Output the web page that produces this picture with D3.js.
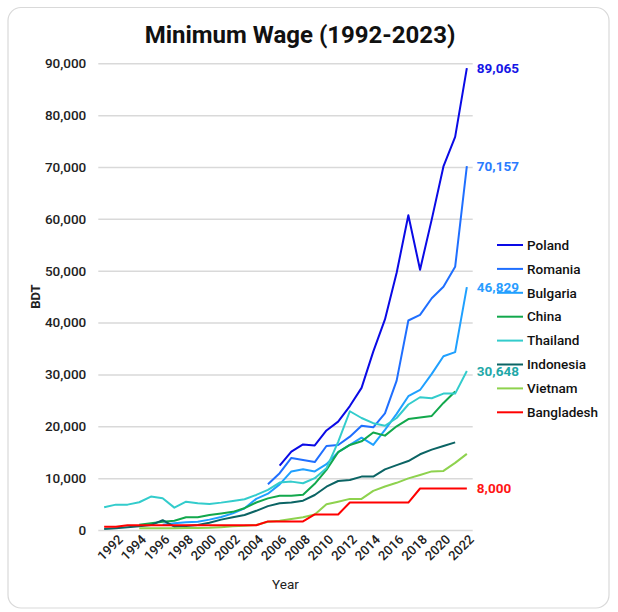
<!DOCTYPE html>
<html>
<head>
<meta charset="utf-8">
<script src="https://cdn.jsdelivr.net/npm/d3@7"></script>
<style>
  body { margin: 0; background: #fff; }
  svg text { font-family: Roboto, "DejaVu Sans", sans-serif; }
</style>
</head>
<body>
<svg id="chart"></svg>
<script>
// years on the x axis
const years = d3.range(1992, 2024);
const tickYears = d3.range(1992, 2023, 2);
const yTicks = [0, 10000, 20000, 30000, 40000, 50000, 60000, 70000, 80000, 90000];

const countries = ["Poland", "Romania", "Bulgaria", "China", "Thailand", "Indonesia", "Vietnam", "Bangladesh"];

// values from 1992 to 2023, null = no data
const poland = [null, null, null, null, null, null, null, null, null, null, null, null, null, null, null,
  12400, 15100, 16500, 16300, 19200, 20900, 23900, 27400, 34400, 40600, 49600, 60700, 50200, 59900, 70100, 75800, 89065];
const romania = [null, null, null, null, null, null, null, null, null, null, null, null, null, null,
  8830, 10950, 13900, 13500, 13100, 16200, 16400, 18000, 20100, 19800, 22500, 28800, 40400, 41500, 44700, 46900, 50750, 70157];
const bulgaria = [null, null, null, null, null, 1000, 1300, 1500, 1600, 2000, 2500, 3200, 4200, 6000,
  7000, 8800, 11300, 11700, 11300, 12700, 15000, 16400, 17800, 16400, 19300, 22400, 25800, 27000, 30100, 33500, 34300, 46829];
const china = [null, null, null, 1000, 1300, 1600, 1800, 2450, 2450, 2900, 3200, 3500, 4200, 5300,
  6100, 6600, 6600, 6800, 8900, 11600, 15000, 16400, 17100, 18800, 18200, 20000, 21400, 21700, 22000, 24500, 26700, null];
const thailand = [4380, 4890, 4890, 5350, 6440, 6120, 4310, 5470, 5150, 5020, 5280, 5600, 5930, 6760,
  7730, 9140, 9330, 9020, 9990, 11900, 17000, 22900, 21600, 20600, 20100, 21600, 24200, 25600, 25400, 26300, 26300, 30648];
const indonesia = [200, 350, 550, 700, 950, 1900, 650, 750, 970, 1400, 2000, 2450, 2900, 3700,
  4600, 5150, 5300, 5650, 6750, 8350, 9450, 9650, 10300, 10300, 11700, 12500, 13300, 14600, 15500, 16200, 16900, null];
const vietnam = [null, null, null, 350, 350, 350, 350, 400, 400, 450, 550, 700, 800, 950,
  1600, 1800, 2100, 2450, 3000, 4950, 5450, 6000, 6000, 7550, 8400, 9100, 9950, 10600, 11300, 11400, 12950, 14680];
const bangladesh = [627, 627, 930, 930, 930, 930, 930, 930, 930, 930, 930, 930, 930, 930,
  1662, 1662, 1662, 1662, 3000, 3000, 3000, 5300, 5300, 5300, 5300, 5300, 5300, 8000, 8000, 8000, 8000, 8000];

const colors = ["#0a0ae6", "#1f6fff", "#1fa0ff", "#12a84c", "#33cccc", "#0b6464", "#8ed24e", "#ff0000"];
const labelColors = {Poland: "#1515e6", Romania: "#2a7bff", Bulgaria: "#2a9dff", Thailand: "#1fa8a8", Bangladesh: "#ff1414"};
const seriesValues = [poland, romania, bulgaria, china, thailand, indonesia, vietnam, bangladesh];

const W = 618, H = 612;
const margin = { top: 63.3, right: 145.3, bottom: 82, left: 98.3 };
const width = W - margin.left - margin.right;
const height = H - margin.top - margin.bottom;

const svg = d3.select("#chart")
  .attr("width", W)
  .attr("height", H);

// card frame
svg.append("rect")
  .attr("x", 8).attr("y", 7.5)
  .attr("width", 601).attr("height", 600.5)
  .attr("rx", 13)
  .attr("fill", "#fff")
  .attr("stroke", "#d9d9d9")
  .attr("stroke-width", 1.2);

svg.append("text")
  .attr("x", 300)
  .attr("y", 43)
  .attr("text-anchor", "middle")
  .style("font-size", "24px")
  .style("font-weight", "700")
  .attr("fill", "#111")
  .text("Minimum Wage (1992-2023)");

const g = svg.append("g")
  .attr("transform", `translate(${margin.left},${margin.top})`);

const x = d3.scaleBand()
  .domain(years)
  .range([0, width]);

const y = d3.scaleLinear()
  .domain([0, 90000])
  .range([height, 0]);

const cx = yr => x(yr) + x.bandwidth() / 2;

// grid + y labels
const yAxis = g.append("g")
  .call(d3.axisLeft(y).tickValues(yTicks).tickSize(-width).tickPadding(12).tickFormat(d3.format(",")));
yAxis.select(".domain").remove();
yAxis.selectAll(".tick line").attr("stroke", "#d9d9d9").attr("stroke-width", 1.5);
yAxis.selectAll(".tick text")
  .attr("fill", "#222")
  .style("font-size", "13.5px")
  .style("font-weight", "500");

// x labels
const xAxis = g.append("g")
  .attr("transform", `translate(0,${height})`)
  .call(d3.axisBottom(x).tickValues(tickYears).tickSize(0).tickPadding(12));
xAxis.select(".domain").remove();
xAxis.selectAll(".tick text")
  .attr("fill", "#222")
  .style("font-size", "13px")
  .style("font-weight", "500")
  .attr("text-anchor", "end")
  .attr("dx", "0.5em")
  .attr("dy", "0.7em")
  .attr("transform", "rotate(-45)");

g.append("text")
  .attr("x", width / 2)
  .attr("y", height + 59)
  .attr("text-anchor", "middle")
  .attr("fill", "#222")
  .style("font-size", "13.5px")
  .text("Year");

g.append("text")
  .attr("transform", `translate(${35 - margin.left},${y(45000)}) rotate(-90)`)
  .attr("text-anchor", "middle")
  .attr("dy", "0.35em")
  .attr("fill", "#222")
  .style("font-size", "13px")
  .style("font-weight", "700")
  .text("BDT");

const line = d3.line()
  .defined(d => d.value != null)
  .x(d => cx(d.year))
  .y(d => y(d.value));

countries.forEach((name, i) => {
  const data = years.map((yr, j) => ({ year: yr, value: seriesValues[i][j] }));
  g.append("path")
    .datum(data)
    .attr("fill", "none")
    .attr("stroke", colors[i])
    .attr("stroke-width", 2)
    .attr("stroke-linejoin", "round")
    .attr("d", line);
});

// end labels
countries.forEach((name, i) => {
  if (!labelColors[name]) return;
  const last = seriesValues[i][years.length - 1];
  g.append("text")
    .attr("x", cx(2023) + 10)
    .attr("y", y(last))
    .attr("dy", "0.35em")
    .attr("fill", labelColors[name])
    .style("font-size", "13.5px")
    .style("font-weight", "700")
    .text(d3.format(",")(last));
});

// legend
const legend = svg.append("g")
  .attr("transform", "translate(497,245)");

countries.forEach((name, i) => {
  const row = legend.append("g")
    .attr("transform", `translate(0, ${i * 23.9})`);
  row.append("line")
    .attr("x1", 0).attr("x2", 26)
    .attr("stroke", colors[i])
    .attr("stroke-width", 2);
  row.append("text")
    .attr("x", 30)
    .attr("dy", "0.35em")
    .attr("fill", "#111")
    .style("font-size", "13.5px")
    .style("font-weight", "500")
    .text(name);
});
</script>
</body>
</html>
